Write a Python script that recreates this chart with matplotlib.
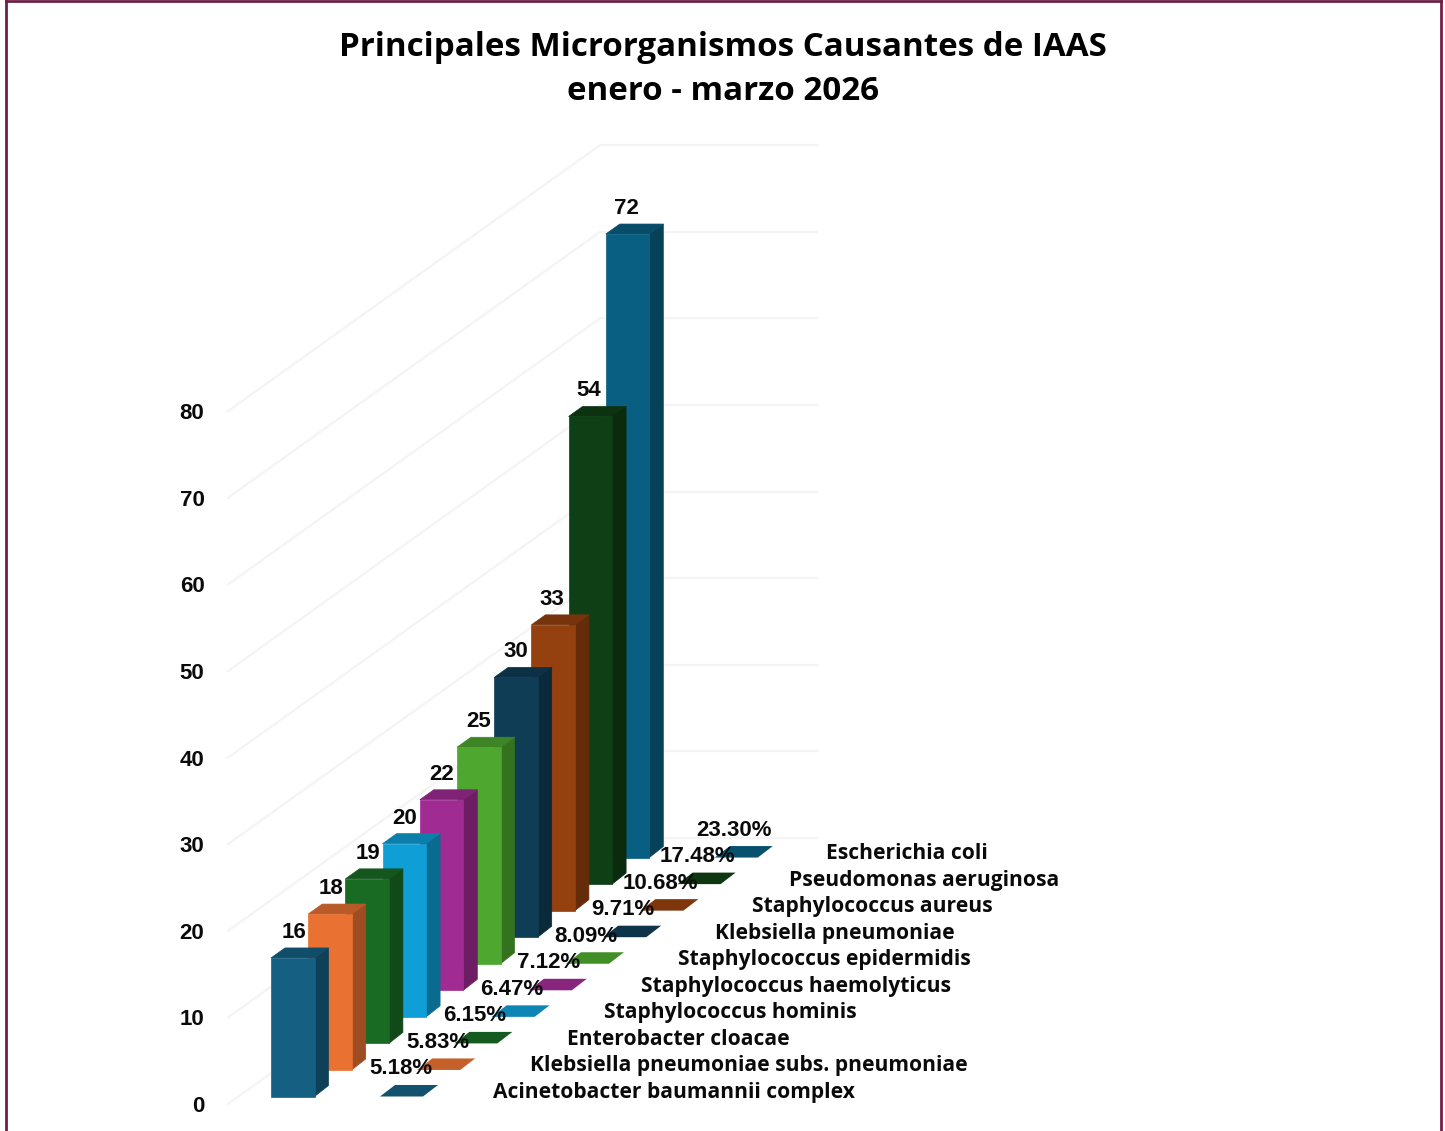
import matplotlib
matplotlib.use('Agg')
import matplotlib.pyplot as plt
from matplotlib.lines import Line2D
from matplotlib.patches import Polygon
from matplotlib.colors import to_rgb

# datos
nombres = ['Acinetobacter baumannii complex', 'Klebsiella pneumoniae subs. pneumoniae',
           'Enterobacter cloacae', 'Staphylococcus hominis', 'Staphylococcus haemolyticus',
           'Staphylococcus epidermidis', 'Klebsiella pneumoniae', 'Staphylococcus aureus',
           'Pseudomonas aeruginosa', 'Escherichia coli']
casos = [16, 18, 19, 20, 22, 25, 30, 33, 54, 72]
porcentajes = ['5.18%', '5.83%', '6.15%', '6.47%', '7.12%', '8.09%', '9.71%', '10.68%', '17.48%', '23.30%']
colores = ['#156082', '#E97132', '#196B24', '#0F9ED5', '#A02B93',
           '#4EA72E', '#0F3D56', '#95400F', '#0F3F14', '#095F82']
ticks_y = [0, 10, 20, 30, 40, 50, 60, 70, 80]

W, H = 1445, 1131
ESC = 8.66          # pixeles por caso
PX = 1 / ESC
Y0 = 1104           # pixel del valor 0 en la pared
PASO_X, PASO_Y = 37.2, 26.55
ANCHO = 43.5
FX, FY = 14, 10     # fondo de la barra
COLOR_TEXTO = '#0a0a0a'
COLOR_REJILLA = '#f4f4f4'

def oscuro(c, f):
    r, g, b = to_rgb(c)
    return (r * f, g * f, b * f)

fig = plt.figure(figsize=(W / 100, H / 100), dpi=100)
ax = fig.add_axes([228 / W, 0, 1 - 228 / W, 1])
ax.set_xlim(228, W)
ax.set_ylim((Y0 - H) * PX, Y0 * PX)
for s in ax.spines.values():
    s.set_visible(False)
ax.xaxis.set_visible(False)
ax.patch.set_alpha(0)
ax.set_yticks(ticks_y)
ax.set_yticklabels([str(t) for t in ticks_y], family='Liberation Sans', fontweight='bold',
                   fontsize=16, color=COLOR_TEXTO)
ax.tick_params(axis='y', length=0, pad=17)

# paredes
for t in ticks_y:
    yb = t + 266 * PX
    ax.plot([228, 600], [t, yb], color=COLOR_REJILLA, lw=1.6, zorder=1, clip_on=False)
    ax.plot([600, 817], [yb, yb], color=COLOR_REJILLA, lw=1.6, zorder=1, clip_on=False)

# barras de atras hacia adelante
n = len(casos)
for i in range(n - 1, -1, -1):
    x = 271 + PASO_X * i
    base = (7.5 + PASO_Y * i) * PX
    top = base + casos[i]
    z = 10 + (n - i)
    c = colores[i]
    ax.add_patch(Polygon([(x + ANCHO, base), (x + ANCHO + FX, base + (FY + 1) * PX),
                          (x + ANCHO + FX, top + FY * PX), (x + ANCHO, top)],
                         closed=True, fc=oscuro(c, 0.68), ec=oscuro(c, 0.68), lw=0.5, zorder=z + 0.1))
    ax.add_patch(Polygon([(x, top), (x + ANCHO, top), (x + ANCHO + FX, top + FY * PX),
                          (x + FX, top + FY * PX)],
                         closed=True, fc=oscuro(c, 0.8), ec=oscuro(c, 0.8), lw=0.5, zorder=z + 0.1))
    ax.bar(x, casos[i], bottom=base, width=ANCHO, align='edge', color=c, ec=c, lw=0.5, zorder=z + 0.2)

    ax.text(294 + 36.9 * i, top + 25.5 * PX, str(casos[i]), ha='center', va='center',
            family='Liberation Sans', fontweight='bold', fontsize=16, color=COLOR_TEXTO, zorder=40)

    # clave de la tabla
    kx = 380 + PASO_X * i
    ax.add_patch(Polygon([(kx, base), (kx + 43, base), (kx + 58, base + 11.5 * PX),
                          (kx + 15, base + 11.5 * PX)],
                         closed=True, fc=oscuro(c, 0.85), ec='none', zorder=30))
    ax.text(401 + 37 * i, base + 27.5 * PX, porcentajes[i], ha='center', va='center',
            family='Liberation Sans', fontweight='bold', fontsize=16, color=COLOR_TEXTO, zorder=40)
    ax.text(493 + 37 * i, base + 4 * PX, nombres[i], ha='left', va='center',
            family='Open Sans', fontweight='bold', fontsize=15.1, color=COLOR_TEXTO, zorder=40)

# titulo
fig.text(723 / W, 1 - 47 / H, 'Principales Microrganismos Causantes de IAAS', ha='center', va='center',
         family='Open Sans', fontweight='bold', fontsize=23.9, color='#000000')
fig.text(723 / W, 1 - 91 / H, 'enero - marzo 2026', ha='center', va='center',
         family='Open Sans', fontweight='bold', fontsize=23.9, color='#000000')

# borde
borde = '#6E2143'
fig.add_artist(Line2D([6 / W, 6 / W], [0, 1 - 1 / H], color=borde, lw=2))
fig.add_artist(Line2D([6 / W, 1441 / W], [1 - 1 / H, 1 - 1 / H], color=borde, lw=2))
fig.add_artist(Line2D([1441 / W, 1441 / W], [0, 1 - 1 / H], color=borde, lw=2))

fig.savefig('out.png', dpi=100)
